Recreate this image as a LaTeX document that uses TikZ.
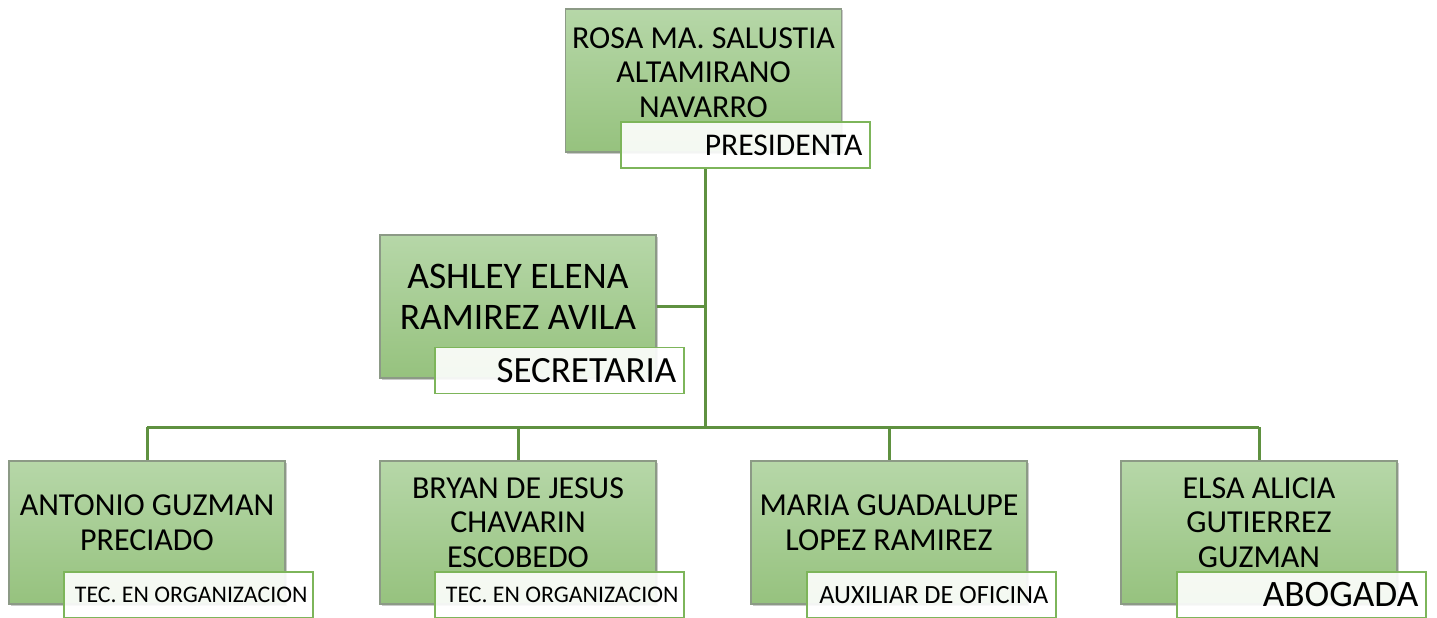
\documentclass[tikz,border=0pt]{standalone}
\usepackage{fontspec}
\setmainfont{Carlito}
\usetikzlibrary{shadows,calc}
\definecolor{boxtop}{HTML}{B6D7A8}
\definecolor{boxbot}{HTML}{96C27E}
\definecolor{boxline}{HTML}{8C9A86}
\definecolor{labline}{HTML}{7DB55A}
\definecolor{conn}{HTML}{5F9140}
\tikzset{
  mainbox/.style={draw=boxline, line width=1.2pt, top color=boxtop, bottom color=boxbot,
    minimum width=276pt, minimum height=143pt, inner sep=0pt,
    drop shadow={shadow xshift=1.5pt, shadow yshift=-1.5pt, opacity=0.35, fill=black!60}},
  labbox/.style={draw=labline, line width=1.2pt, fill=white, fill opacity=0.9,
    minimum width=249pt, minimum height=46pt, inner sep=0pt},
  nametext/.style={align=center, inner sep=0pt, font=\fontsize{32}{34.5}\selectfont},
  bignametext/.style={align=center, inner sep=0pt, font=\fontsize{37.5}{41}\selectfont},
  labtext/.style={anchor=east, inner sep=0pt},
  connector/.style={draw=conn, line width=3pt}
}
\begin{document}
\begin{tikzpicture}[x=1pt,y=-1pt]
\useasboundingbox (0,0) rectangle (1437,618);
% boxes
\node[mainbox] (p) at (703.5,80.5) {};
\node[mainbox] (s) at (518,306.5) {};
\node[mainbox] (a) at (147,532.5) {};
\node[mainbox] (b) at (518,532.5) {};
\node[mainbox] (m) at (889,532.5) {};
\node[mainbox] (e) at (1259,532.5) {};
% connectors
\coordinate (bus) at (705,427);
\path (p.south) ++(0,15) coordinate (pbot);
\draw[connector] (bus |- pbot) -- (bus);
\draw[connector] (s.east) -- (s.east -| bus);
\draw[connector] (a.north |- bus) -- (e.north |- bus);
\draw[connector] (a.north |- bus) -- (a.north);
\draw[connector] (b.north |- bus) -- (b.north);
\draw[connector] (m.north |- bus) -- (m.north);
\draw[connector] (e.north |- bus) -- (e.north);
% names
\node[nametext] (pt) at ($(p.center)+(0,-8)$) {ROSA MA. SALUSTIA\\ALTAMIRANO\\NAVARRO};
\node[bignametext] (st) at ($(s.center)+(0,-10)$) {ASHLEY ELENA\\RAMIREZ AVILA};
\node[nametext] (at) at ($(a.center)+(0,-10)$) {ANTONIO GUZMAN\\PRECIADO};
\node[nametext] (bt) at ($(b.center)+(0,-10)$) {BRYAN DE JESUS\\CHAVARIN\\ESCOBEDO};
\node[nametext] (mt) at ($(m.center)+(0,-10)$) {MARIA GUADALUPE\\LOPEZ RAMIREZ};
\node[nametext] (et) at ($(e.center)+(0,-10)$) {ELSA ALICIA\\GUTIERREZ\\GUZMAN};
% labels
\node[labbox] (pl) at (745.5,145) {};
\node[labbox] (sl) at (559.5,370.5) {};
\node[labbox] (al) at (188.5,595) {};
\node[labbox] (bl) at (559.5,595) {};
\node[labbox] (ml) at (931.5,595) {};
\node[labbox] (el) at (1301.5,595) {};
\node[labtext, font=\fontsize{31.6}{34}\selectfont] (plt) at ($(pl.east)+(-8,0)$) {PRESIDENTA};
\node[labtext, font=\fontsize{37}{40}\selectfont] (slt) at ($(sl.east)+(-8,0)$) {SECRETARIA};
\node[labtext, font=\fontsize{23.8}{26}\selectfont] (alt) at ($(al.east)+(-6,0)$) {TEC. EN ORGANIZACION};
\node[labtext, font=\fontsize{23.8}{26}\selectfont] (blt) at ($(bl.east)+(-6,0)$) {TEC. EN ORGANIZACION};
\node[labtext, font=\fontsize{26.3}{28}\selectfont] (mlt) at ($(ml.east)+(-8,0)$) {AUXILIAR DE OFICINA};
\node[labtext, font=\fontsize{37.3}{40}\selectfont] (elt) at ($(el.east)+(-8,0)$) {ABOGADA};
\end{tikzpicture}
\end{document}
